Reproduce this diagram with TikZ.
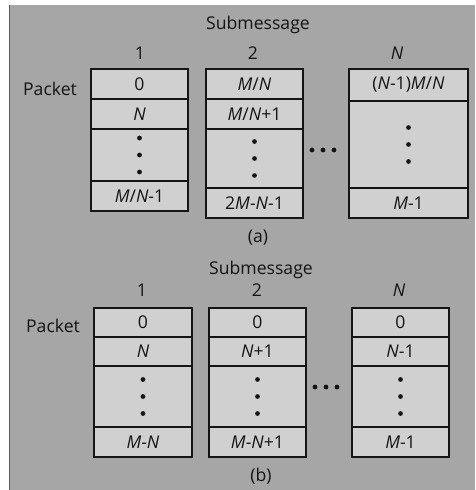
\documentclass[tikz,border=0pt]{standalone}
\usepackage{fontspec}
\setmainfont{Open Sans}
\definecolor{bggray}{HTML}{A6A6A6}
\definecolor{boxgray}{HTML}{D0D0D0}
\definecolor{ink}{HTML}{141414}
\newcommand{\vM}{\textit{M}}
\newcommand{\vN}{\textit{N}}
\begin{document}
\begin{tikzpicture}[x=1pt,y=-1pt,
  every node/.style={font=\fontsize{17.6}{19}\selectfont, text=ink},
  cell/.style={draw=ink, line width=1.1pt, fill=boxgray, anchor=north west,
    inner sep=0pt, outer sep=0pt},
  lbl/.style={inner sep=0pt},
  dot/.style={circle, fill=ink, inner sep=0pt, minimum size=4.8pt}]
% page and scanned grey backdrop
\useasboundingbox (0,0) rectangle (475,490);
\fill[white] (0,0) rectangle (475,490);
\fill[bggray] (9,5) rectangle (475,490);
\draw[ink!70, line width=0.8pt] (9,5) -- (9,490);

% ---------- (a) ----------
\node[lbl] (subA) at (258,25) {Submessage};
\node[lbl] (a1h) at (140,53) {1};
\node[lbl] (a2h) at (253,53) {2};
\node[lbl] (aNh) at (397,53) {\vN};
\node[lbl] (pktA) at (50,89) {Packet};

% submessage 1
\node[cell, minimum width=97pt, minimum height=30pt] (a1c0) at (91,69) {0};
\node[cell, minimum width=97pt, minimum height=30pt] (a1c1) at (91,99) {\vN};
\node[cell, minimum width=97pt, minimum height=52pt] (a1c2) at (91,129) {};
\node[cell, minimum width=97pt, minimum height=30pt] (a1c3) at (91,181) {\vM/\vN-1};
% submessage 2
\node[cell, minimum width=97pt, minimum height=30pt] (a2c0) at (206,69) {\vM/\vN};
\node[cell, minimum width=97pt, minimum height=30pt] (a2c1) at (206,99) {\vM/\vN+1};
\node[cell, minimum width=97pt, minimum height=59pt] (a2c2) at (206,129) {};
\node[cell, minimum width=97pt, minimum height=30pt] (a2c3) at (206,188) {2\vM-\vN-1};
% submessage N
\node[cell, minimum width=119pt, minimum height=32pt] (aNc0) at (349,69) {(\vN-1)\vM/\vN};
\node[cell, minimum width=119pt, minimum height=87pt] (aNc1) at (349,101) {};
\node[cell, minimum width=119pt, minimum height=30pt] (aNc2) at (349,188) {\vM-1};

% vertical ellipses inside the middle cells
\foreach \c in {a1c2,a2c2,aNc1}{
  \node[dot] at ([yshift=-17pt]\c.center) {};
  \node[dot] at (\c.center) {};
  \node[dot] at ([yshift=17pt]\c.center) {};
}
% horizontal ellipsis between submessages 2 and N
\node[dot] (ah1) at (312,150) {};
\node[dot] (ah2) at (323,150) {};
\node[dot] (ah3) at (334,150) {};

\node[lbl] (capA) at (258,238) {(a)};

% ---------- (b) ----------
\node[lbl] (subB) at (261,270) {Submessage};
\node[lbl] (b1h) at (142,290) {1};
\node[lbl] (b2h) at (257,290) {2};
\node[lbl] (bNh) at (399,290) {\vN};
\node[lbl] (pktB) at (53,326) {Packet};

% submessage 1
\node[cell, minimum width=98pt, minimum height=29pt] (b1c0) at (94,308) {0};
\node[cell, minimum width=98pt, minimum height=29pt] (b1c1) at (94,337) {\vN};
\node[cell, minimum width=98pt, minimum height=61pt] (b1c2) at (94,366) {};
\node[cell, minimum width=98pt, minimum height=30pt] (b1c3) at (94,427) {\vM-\vN};
% submessage 2
\node[cell, minimum width=97pt, minimum height=29pt] (b2c0) at (209,308) {0};
\node[cell, minimum width=97pt, minimum height=29pt] (b2c1) at (209,337) {\vN+1};
\node[cell, minimum width=97pt, minimum height=61pt] (b2c2) at (209,366) {};
\node[cell, minimum width=97pt, minimum height=30pt] (b2c3) at (209,427) {\vM-\vN+1};
% submessage N
\node[cell, minimum width=97pt, minimum height=29pt] (bNc0) at (352,308) {0};
\node[cell, minimum width=97pt, minimum height=29pt] (bNc1) at (352,337) {\vN-1};
\node[cell, minimum width=97pt, minimum height=61pt] (bNc2) at (352,366) {};
\node[cell, minimum width=97pt, minimum height=30pt] (bNc3) at (352,427) {\vM-1};

\foreach \c in {b1c2,b2c2,bNc2}{
  \node[dot] at ([yshift=-17pt]\c.center) {};
  \node[dot] at (\c.center) {};
  \node[dot] at ([yshift=17pt]\c.center) {};
}
\node[dot] (bh1) at (315,387) {};
\node[dot] (bh2) at (326,387) {};
\node[dot] (bh3) at (337,387) {};

\node[lbl] (capB) at (261,476) {(b)};
\end{tikzpicture}
\end{document}
